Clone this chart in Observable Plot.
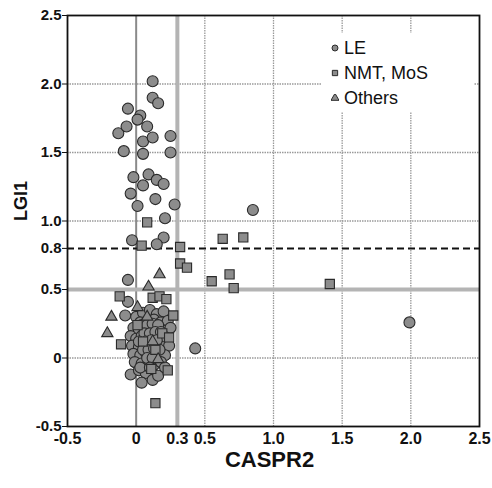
<!DOCTYPE html>
<html>
<head>
<meta charset="utf-8">
<script src="https://cdn.jsdelivr.net/npm/d3@7"></script>
<script src="https://cdn.jsdelivr.net/npm/@observablehq/plot@0.6"></script>
<style>
  html, body { margin: 0; padding: 0; background: #fff; }
  #wrap { position: relative; width: 492px; height: 488px; font-family: "Liberation Sans", Arial, Helvetica, sans-serif; }
  #legend { position: absolute; left: 322px; top: 33px; width: 152px; height: 79px; background: #fff; }
  #legend .row { position: absolute; left: 0; height: 22px; display: flex; align-items: center; font-size: 18px; color: #111; }
  #legend svg { margin-left: 9px; margin-right: 5px; }
</style>
</head>
<body>
<div id="wrap"><div id="legend"></div></div>
<script>
// ---- Data ----
const leX = [0.12,0.12,0.16,-0.06,0.03,0.01,0.08,-0.13,-0.07,0.05,0.12,0.25,-0.09,0.05,0.25,
  -0.02,0.09,0.15,0.20,0.05,-0.04,0.14,0.01,0.28,0.21,-0.03,0.20,0.15,
  0.85,1.99,0.43,-0.06,-0.06,-0.08,
  0.00,0.05,0.10,0.15,0.20,0.03,0.08,0.13,0.18,0.23,
  -0.02,0.02,0.06,0.11,0.16,0.21,0.25,
  -0.04,0.00,0.04,0.09,0.13,0.18,0.22,
  -0.03,0.02,0.06,0.10,0.15,0.19,0.24,
  -0.02,0.03,0.07,0.12,0.16,0.21,
  -0.01,0.04,0.09,0.13,0.18,
  -0.04,0.02,0.07,0.12,0.04,0.16,0.21,
  0.04,0.08,0.12,0.16,0.06,0.10,0.14,0.18,0.02,0.07,0.11,0.15,0.05,0.09,0.13,0.17,0.08,0.12,0.03,0.10];
const leY = [2.02,1.90,1.86,1.82,1.77,1.74,1.69,1.64,1.69,1.58,1.61,1.62,1.51,1.49,1.50,
  1.32,1.34,1.30,1.27,1.26,1.20,1.16,1.11,1.12,1.02,0.86,0.88,0.83,
  1.08,0.26,0.07,0.57,0.41,0.31,
  0.30,0.33,0.35,0.32,0.34,0.26,0.27,0.28,0.26,0.27,
  0.22,0.20,0.22,0.21,0.22,0.20,0.22,
  0.16,0.14,0.16,0.15,0.17,0.15,0.14,
  0.09,0.08,0.10,0.09,0.11,0.08,0.09,
  0.03,0.02,0.04,0.03,0.05,0.02,
  -0.03,-0.04,-0.02,-0.05,-0.03,
  -0.12,-0.09,-0.11,-0.16,-0.18,-0.13,-0.07,
  0.24,0.24,0.25,0.24,0.18,0.18,0.19,0.19,0.12,0.12,0.13,0.13,0.06,0.06,0.07,0.06,0.00,0.00,-0.07,-0.07];
const nmtX = [0.08,0.04,0.32,0.63,0.78,0.32,0.37,0.55,0.68,0.71,1.41,0.14,-0.12,0.12,0.17,0.22,0.27,-0.11,0.23,
  0.05,0.14,0.19,0.01,0.11,0.24];
const nmtY = [0.99,0.82,0.81,0.87,0.88,0.69,0.66,0.56,0.61,0.51,0.54,-0.33,0.45,0.44,0.45,0.43,0.31,0.10,-0.09,
  0.12,0.06,0.18,0.24,-0.08,0.15];
const othX = [0.17,0.09,0.01,-0.18,-0.21,0.08,0.12,0.16];
const othY = [0.61,0.52,0.37,0.30,0.18,0.30,0.12,-0.01];

const groupNames = ["LE", "NMT, MoS", "Others"];
const groupSymbols = ["circle", "square", "triangle"];
const xTicks = [-0.5, 0, 0.3, 0.5, 1.0, 1.5, 2.0, 2.5];
const yTicks = [-0.5, 0, 0.5, 0.8, 1.0, 1.5, 2.0, 2.5];
const xGrid = [0.5, 1.0, 1.5, 2.0];
const yGrid = [0, 1.0, 1.5, 2.0];
const xZeroLine = [0];
const xCutoff = [0.3];
const yCutoff = [0.5];
const yDashed = [0.8];
const xTitle = "CASPR2";
const yTitle = "LGI1";

// ---- Build tables ----
const le = leX.map((x, i) => ({x, y: leY[i]}));
const nmt = nmtX.map((x, i) => ({x, y: nmtY[i]}));
const oth = othX.map((x, i) => ({x, y: othY[i]}));

const fmt = d => d === 0 ? "0" : d.toFixed(1);
const FILL = "#8c8c8c", STROKE = "#2a2a2a";

const chart = Plot.plot({
  width: 492,
  height: 488,
  marginLeft: 67,
  marginRight: 13,
  marginTop: 15,
  marginBottom: 62,
  style: {fontFamily: '"Liberation Sans", Arial, Helvetica, sans-serif', background: "#fff", color: "#111"},
  x: {domain: [-0.5, 2.5]},
  y: {domain: [-0.5, 2.5]},
  marks: [
    Plot.ruleX(xGrid, {stroke: "#9a9a9a", strokeWidth: 1.3, strokeDasharray: "1.5,1"}),
    Plot.ruleY(yGrid, {stroke: "#9a9a9a", strokeWidth: 1.3, strokeDasharray: "1.5,1"}),
    Plot.ruleX(xZeroLine, {stroke: "#8a8a8a", strokeWidth: 2}),
    Plot.ruleX(xCutoff, {stroke: "#b4b4b4", strokeWidth: 4}),
    Plot.ruleY(yCutoff, {stroke: "#b4b4b4", strokeWidth: 4}),
    Plot.ruleY(yDashed, {stroke: "#111", strokeWidth: 2, strokeDasharray: "7,4"}),
    Plot.dot(le, {x: "x", y: "y", symbol: groupSymbols[0], r: 5.5, fill: FILL, stroke: STROKE, strokeWidth: 1.1}),
    Plot.dot(nmt, {x: "x", y: "y", symbol: groupSymbols[1], r: 5.2, fill: FILL, stroke: STROKE, strokeWidth: 1.1}),
    Plot.dot(oth, {x: "x", y: "y", symbol: groupSymbols[2], r: 4.2, fill: FILL, stroke: STROKE, strokeWidth: 1.1}),
    Plot.frame({stroke: "#111", strokeWidth: 1.8}),
    Plot.axisX(xTicks, {tickSize: 0, tickPadding: 6, tickFormat: fmt, fontSize: 16, fontWeight: "bold", label: null}),
    Plot.axisY(yTicks, {tickSize: 5, tickPadding: 1, tickFormat: fmt, fontSize: 15, fontWeight: "bold", label: null}),
    Plot.text([xTitle], {frameAnchor: "bottom", dy: 40, dx: -4, fontSize: 22, fontWeight: "bold", fill: "#111"}),
    Plot.text([yTitle], {frameAnchor: "left", dx: -46, rotate: -90, fontSize: 18, fontWeight: "bold", fill: "#111"})
  ]
});

const wrap = document.getElementById("wrap");
wrap.insertBefore(chart, wrap.firstChild);

// ---- Legend ----
const legend = document.getElementById("legend");
const d3sym = {circle: d3.symbolCircle, square: d3.symbolSquare, triangle: d3.symbolTriangle};
groupNames.forEach((name, i) => {
  const row = document.createElement("div");
  row.className = "row";
  row.style.top = (4 + i * 25) + "px";
  const svg = d3.create("svg").attr("width", 8).attr("height", 8);
  svg.append("path")
    .attr("transform", "translate(4,4)")
    .attr("d", d3.symbol(d3sym[groupSymbols[i]], 28)())
    .attr("fill", FILL).attr("stroke", STROKE).attr("stroke-width", 1);
  row.appendChild(svg.node());
  const span = document.createElement("span");
  span.textContent = name;
  row.appendChild(span);
  legend.appendChild(row);
});
</script>
</body>
</html>
